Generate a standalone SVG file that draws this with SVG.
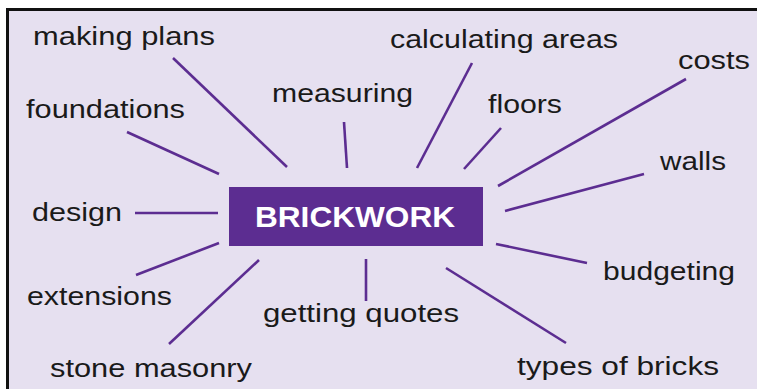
<svg xmlns="http://www.w3.org/2000/svg" width="757" height="389" viewBox="0 0 757 389">
<style>
.lbl{font-family:"Liberation Sans",Arial,Helvetica,sans-serif;font-size:26px;fill:#1a1a1a}
.hub{font-family:"Liberation Sans",Arial,Helvetica,sans-serif;font-size:30px;font-weight:bold;fill:#ffffff}
.con line{stroke:#5c2d91;stroke-width:2.6;stroke-linecap:butt}
</style>
<rect x="0" y="0" width="757" height="389" fill="#ffffff"/>
<rect x="7.5" y="9.5" width="760" height="390" fill="#e6e0f0" stroke="#111111" stroke-width="3"/>
<g id="connectors" class="con">
<line x1="173" y1="58" x2="287" y2="167"/>
<line x1="127" y1="132" x2="219" y2="174"/>
<line x1="135" y1="213" x2="218" y2="213"/>
<line x1="136" y1="275" x2="219" y2="243"/>
<line x1="169" y1="344" x2="259" y2="260"/>
<line x1="344" y1="122" x2="347" y2="168"/>
<line x1="472" y1="63" x2="417" y2="168"/>
<line x1="501" y1="128" x2="464" y2="169"/>
<line x1="686" y1="79" x2="498" y2="186"/>
<line x1="644" y1="174" x2="505" y2="211"/>
<line x1="496" y1="244" x2="587" y2="263"/>
<line x1="446" y1="268" x2="566" y2="343"/>
<line x1="366" y1="259" x2="366" y2="301"/>
</g>
<g id="brickwork">
<rect x="229" y="187" width="254" height="59" fill="#5c2d91"/>
<text class="hub" x="255" y="227" textLength="200" lengthAdjust="spacingAndGlyphs">BRICKWORK</text>
</g>
<g id="making-plans"><text class="lbl" x="33" y="45" textLength="182" lengthAdjust="spacingAndGlyphs">making plans</text></g>
<g id="foundations"><text class="lbl" x="26" y="118" textLength="159" lengthAdjust="spacingAndGlyphs">foundations</text></g>
<g id="design"><text class="lbl" x="32" y="221" textLength="90" lengthAdjust="spacingAndGlyphs">design</text></g>
<g id="extensions"><text class="lbl" x="27" y="305" textLength="145" lengthAdjust="spacingAndGlyphs">extensions</text></g>
<g id="stone-masonry"><text class="lbl" x="50" y="377" textLength="202" lengthAdjust="spacingAndGlyphs">stone masonry</text></g>
<g id="measuring"><text class="lbl" x="272" y="102" textLength="141" lengthAdjust="spacingAndGlyphs">measuring</text></g>
<g id="calculating-areas"><text class="lbl" x="390" y="48" textLength="228" lengthAdjust="spacingAndGlyphs">calculating areas</text></g>
<g id="floors"><text class="lbl" x="488" y="113" textLength="74" lengthAdjust="spacingAndGlyphs">floors</text></g>
<g id="costs"><text class="lbl" x="678" y="69" textLength="72" lengthAdjust="spacingAndGlyphs">costs</text></g>
<g id="walls"><text class="lbl" x="660" y="170" textLength="66" lengthAdjust="spacingAndGlyphs">walls</text></g>
<g id="budgeting"><text class="lbl" x="603" y="280" textLength="132" lengthAdjust="spacingAndGlyphs">budgeting</text></g>
<g id="getting-quotes"><text class="lbl" x="263" y="322" textLength="196" lengthAdjust="spacingAndGlyphs">getting quotes</text></g>
<g id="types-of-bricks"><text class="lbl" x="517" y="375" textLength="202" lengthAdjust="spacingAndGlyphs">types of bricks</text></g>
</svg>
